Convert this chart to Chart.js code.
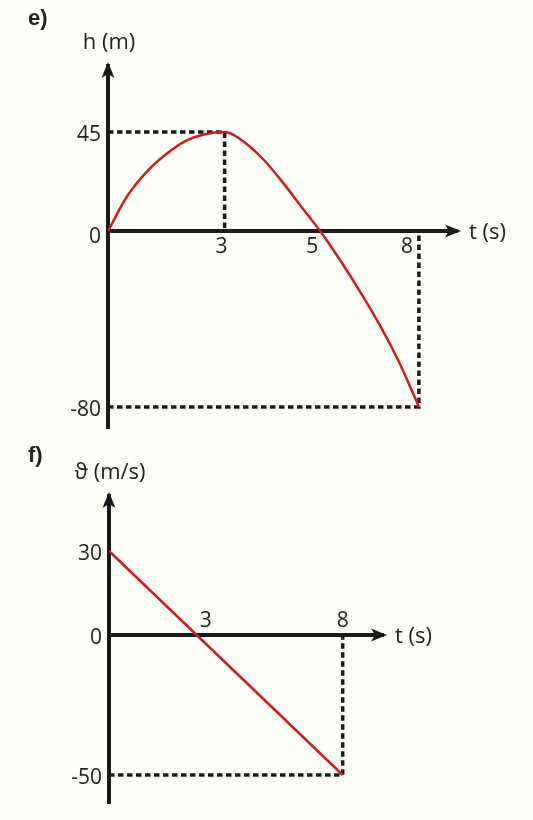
<!DOCTYPE html>
<html>
<head>
<meta charset="utf-8">
<script src="https://cdn.jsdelivr.net/npm/chart.js@4.4.1/dist/chart.umd.min.js"></script>
<style>
  body { margin: 0; background: #fffef8; }
  #page { position: relative; width: 533px; height: 820px; }
  .panel { position: absolute; left: 0; width: 533px; }
</style>
</head>
<body>
<div id="page">
  <div class="panel" style="top:0;height:430px"><canvas id="chartE"></canvas></div>
  <div class="panel" style="top:430px;height:390px"><canvas id="chartF"></canvas></div>
</div>
<script>
// e) height against time
const heightTimes = [0, 0.5, 1, 1.5, 2, 2.5, 3, 3.5, 4, 4.5, 5, 5.5, 6, 6.5, 7, 7.5, 8];
const heightValues = [0, 16, 27, 35, 41, 44, 45, 40.5, 32.5, 22, 10.5, -1, -14, -28, -43, -60, -80];
const heightTicksX = [3, 5, 8];
const heightTicksY = [45, 0, -80];

// f) velocity against time
const speedTimes = [0, 8];
const speedValues = [30, -50];
const speedTicksX = [3, 8];
const speedTicksY = [30, 0, -50];

const INK = '#1a1a1a';
const RED = '#cc1c1c';
const FONT = '"Open Sans", "DejaVu Sans", sans-serif';

function points(xs, ys) {
    return xs.map((x, i) => ({ x: x, y: ys[i] }));
}

// dashed helper lines from the peak and the last point back to the axes
function guideLines(xs, ys) {
    const sets = [];
    const top = ys.indexOf(Math.max(...ys));
    if (top > 0 && top < ys.length - 1) {
        sets.push([{ x: 0, y: ys[top] }, { x: xs[top], y: ys[top] }, { x: xs[top], y: 0 }]);
    }
    const last = ys.length - 1;
    sets.push([{ x: 0, y: ys[last] }, { x: xs[last], y: ys[last] }, { x: xs[last], y: 0 }]);
    return sets.map(data => ({
        data: data,
        borderColor: INK,
        borderWidth: 3.5,
        borderDash: [5.5, 3.5],
        pointRadius: 0,
        tension: 0,
        order: 2
    }));
}

const axisDecor = {
    id: 'axisDecor',
    afterDraw(chart, args, o) {
        const { ctx, chartArea, scales } = chart;
        const x0 = scales.x.getPixelForValue(0);
        const y0 = scales.y.getPixelForValue(0);
        ctx.save();
        ctx.fillStyle = INK;

        // arrow heads
        const tipY = chartArea.top - 4;
        ctx.beginPath();
        ctx.moveTo(x0, tipY);
        ctx.lineTo(x0 + 6.5, tipY + 16);
        ctx.lineTo(x0, tipY + 12);
        ctx.lineTo(x0 - 6.5, tipY + 16);
        ctx.closePath();
        ctx.fill();

        const tipX = chartArea.right + 4;
        ctx.beginPath();
        ctx.moveTo(tipX, y0);
        ctx.lineTo(tipX - 16, y0 - 6.5);
        ctx.lineTo(tipX - 12, y0);
        ctx.lineTo(tipX - 16, y0 + 6.5);
        ctx.closePath();
        ctx.fill();

        ctx.fillStyle = '#222';
        ctx.textBaseline = 'middle';

        // panel letter
        ctx.font = 'bold 22px "Liberation Sans", Arial, sans-serif';
        ctx.textAlign = 'left';
        ctx.fillText(o.panel, 28, o.panelY);

        // axis titles
        ctx.font = '22px ' + FONT;
        ctx.textAlign = 'center';
        ctx.fillText(o.yTitle, x0 + 1, chartArea.top - 23);
        ctx.textAlign = 'left';
        ctx.fillText(o.xTitle, tipX + 8, y0 + 2);

        // tick labels
        ctx.font = '21px ' + FONT;
        ctx.textAlign = 'right';
        o.yTicks.forEach(v => {
            const shift = v === 0 ? o.zeroShift : 3;
            ctx.fillText(String(v), x0 - 7, scales.y.getPixelForValue(v) + shift);
        });
        o.xTicks.forEach((v, i) => {
            ctx.textAlign = o.xAlign[i];
            ctx.fillText(String(v), scales.x.getPixelForValue(v) + o.xShift[i], y0 + o.xLabelY);
        });
        ctx.restore();
    }
};

function axis(min, max, pos) {
    return {
        type: 'linear',
        min: min,
        max: max,
        position: pos,
        grid: { display: false, drawTicks: false },
        ticks: { display: false },
        border: { display: true, width: 4, color: INK }
    };
}

function makeChart(id, xs, ys, curved, range, padding, decor) {
    const datasets = [{
        data: points(xs, ys),
        borderColor: RED,
        borderWidth: 2.5,
        pointRadius: 0,
        cubicInterpolationMode: curved ? 'monotone' : 'default',
        tension: 0,
        order: 1
    }].concat(guideLines(xs, ys));

    return new Chart(document.getElementById(id), {
        type: 'line',
        data: { datasets: datasets },
        options: {
            responsive: true,
            maintainAspectRatio: false,
            animation: false,
            layout: { padding: padding },
            scales: {
                x: axis(range.xMin, range.xMax, { y: 0 }),
                y: axis(range.yMin, range.yMax, { x: 0 })
            },
            plugins: {
                legend: { display: false },
                tooltip: { enabled: false },
                axisDecor: decor
            }
        },
        plugins: [axisDecor]
    });
}

makeChart('chartE', heightTimes, heightValues, true,
    { xMin: 0, xMax: 8.98, yMin: -89.55, yMax: 75 },
    { left: 108, right: 76, top: 66, bottom: 2 },
    {
        panel: 'e)', panelY: 19, yTitle: 'h (m)', xTitle: 't (s)',
        yTicks: heightTicksY, xTicks: heightTicksX, zeroShift: 6,
        xAlign: ['center', 'center', 'right'], xShift: [-3, 10, -6], xLabelY: 16
    });

makeChart('chartF', speedTimes, speedValues, false,
    { xMin: 0, xMax: 9.38, yMin: -60, yMax: 49.64 },
    { left: 109, right: 150, top: 66, bottom: 17 },
    {
        panel: 'f)', panelY: 26, yTitle: 'ϑ (m/s)', xTitle: 't (s)',
        yTicks: speedTicksY, xTicks: speedTicksX, zeroShift: 3,
        xAlign: ['center', 'center'], xShift: [9, 0], xLabelY: -14
    });
</script>
</body>
</html>
